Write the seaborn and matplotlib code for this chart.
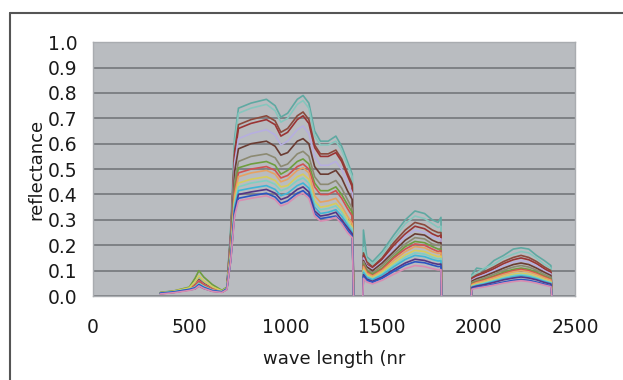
import matplotlib
matplotlib.use("Agg")
import matplotlib.pyplot as plt
from matplotlib.lines import Line2D
import numpy as np
import pandas as pd
import seaborn as sns

# wavelengths (nm) of the three measured bands, water bands left out
wl_band1 = [350, 420, 500, 530, 550, 575, 620, 670, 695, 715, 735, 755, 820, 900,
            945, 975, 1010, 1060, 1090, 1120, 1150, 1180, 1220, 1260, 1290, 1320, 1345, 1352]
wl_band2 = [1400, 1403, 1420, 1450, 1500, 1560, 1620, 1670, 1720, 1760, 1790, 1805, 1808]
wl_band3 = [1962, 1966, 1990, 2030, 2080, 2130, 2180, 2220, 2260, 2300, 2340, 2375, 2380]

# reflectance of each sample, band 1 / band 2 / band 3
s01 = ([.012, .018, .03, .052, .075, .056, .034, .02, .035, .27, .62, .74, .76, .775,
        .75, .705, .72, .775, .79, .76, .65, .61, .61, .63, .59, .53, .48, 0],
       [0, .26, .155, .135, .175, .24, .30, .335, .325, .30, .29, .31, 0],
       [0, .085, .11, .105, .14, .16, .185, .19, .185, .16, .14, .12, 0])
s02 = ([.01, .016, .028, .049, .07, .052, .032, .019, .033, .26, .60, .72, .74, .755,
        .73, .685, .70, .755, .77, .74, .63, .595, .595, .61, .575, .515, .47, 0],
       [0, .19, .145, .125, .165, .225, .285, .315, .305, .285, .27, .275, 0],
       [0, .08, .09, .11, .125, .15, .165, .175, .17, .15, .125, .11, 0])
s03 = ([.011, .017, .028, .045, .065, .049, .03, .018, .032, .25, .57, .675, .695, .71,
        .69, .645, .66, .71, .725, .695, .595, .56, .56, .575, .54, .485, .44, 0],
       [0, .17, .135, .115, .15, .21, .26, .29, .28, .26, .25, .25, 0],
       [0, .072, .083, .096, .115, .136, .152, .16, .152, .136, .115, .10, 0])
s04 = ([.013, .019, .03, .042, .06, .045, .028, .019, .033, .24, .555, .66, .68, .695,
        .675, .63, .645, .695, .71, .68, .585, .55, .55, .565, .53, .475, .43, 0],
       [0, .16, .125, .11, .145, .20, .245, .275, .265, .245, .235, .24, 0],
       [0, .068, .078, .09, .108, .128, .143, .15, .143, .128, .108, .093, 0])
s05 = ([.01, .016, .027, .042, .06, .045, .027, .017, .03, .23, .525, .62, .64, .655,
        .635, .595, .61, .655, .67, .64, .55, .515, .515, .53, .50, .445, .405, 0],
       [0, .15, .12, .105, .135, .185, .235, .26, .25, .235, .225, .225, 0],
       [0, .063, .073, .084, .10, .119, .133, .14, .133, .119, .10, .087, 0])
s06 = ([.012, .018, .028, .039, .055, .041, .025, .018, .03, .21, .49, .58, .60, .61,
        .59, .555, .565, .61, .62, .60, .51, .48, .48, .495, .465, .415, .38, 0],
       [0, .14, .115, .10, .13, .175, .22, .245, .24, .22, .21, .21, 0],
       [0, .059, .068, .078, .094, .11, .124, .13, .124, .11, .094, .081, 0])
s07 = ([.01, .016, .026, .035, .05, .038, .023, .016, .028, .20, .45, .53, .55, .56,
        .545, .51, .52, .56, .57, .55, .47, .44, .44, .455, .425, .38, .345, 0],
       [0, .135, .105, .09, .12, .165, .205, .23, .225, .205, .20, .20, 0],
       [0, .054, .062, .072, .086, .102, .114, .12, .114, .102, .086, .074, 0])
s08 = ([.014, .02, .035, .07, .10, .075, .045, .022, .035, .19, .425, .505, .52, .53,
        .515, .48, .495, .53, .54, .52, .445, .415, .415, .43, .40, .36, .33, 0],
       [0, .125, .10, .085, .11, .155, .195, .215, .21, .195, .185, .185, 0],
       [0, .05, .057, .066, .079, .094, .105, .11, .105, .094, .079, .068, 0])
s09 = ([.011, .017, .03, .042, .06, .045, .027, .018, .03, .18, .41, .485, .50, .51,
        .495, .465, .475, .51, .52, .50, .43, .40, .40, .415, .385, .345, .315, 0],
       [0, .12, .095, .08, .105, .15, .185, .205, .20, .185, .175, .18, 0],
       [0, .047, .055, .063, .076, .089, .10, .105, .10, .089, .076, .065, 0])
s10 = ([.01, .015, .027, .035, .05, .038, .023, .016, .028, .175, .395, .47, .485, .495,
        .48, .45, .46, .495, .505, .485, .395, .37, .375, .385, .355, .315, .285, 0],
       [0, .115, .09, .078, .10, .14, .175, .195, .19, .175, .168, .17, 0],
       [0, .045, .052, .06, .072, .085, .095, .10, .095, .085, .072, .062, 0])
s11 = ([.013, .019, .032, .056, .08, .06, .036, .02, .032, .165, .375, .445, .46, .47,
        .455, .43, .435, .47, .48, .46, .375, .35, .355, .365, .34, .30, .27, 0],
       [0, .105, .083, .072, .094, .13, .162, .18, .175, .162, .155, .157, 0],
       [0, .041, .047, .054, .065, .077, .086, .09, .086, .077, .065, .056, 0])
s12 = ([.01, .016, .027, .035, .05, .038, .023, .017, .03, .16, .365, .43, .445, .455,
        .44, .415, .425, .455, .465, .445, .365, .34, .345, .355, .33, .29, .265, 0],
       [0, .10, .078, .068, .088, .122, .153, .17, .165, .153, .146, .148, 0],
       [0, .038, .044, .051, .061, .072, .081, .085, .081, .072, .061, .053, 0])
s13 = ([.012, .017, .026, .032, .045, .034, .021, .016, .028, .15, .35, .415, .425, .435,
        .42, .395, .405, .435, .445, .425, .35, .325, .33, .34, .315, .28, .25, 0],
       [0, .093, .074, .064, .083, .115, .144, .16, .155, .144, .138, .139, 0],
       [0, .036, .042, .048, .058, .068, .076, .08, .076, .068, .058, .05, 0])
s14 = ([.009, .014, .024, .028, .04, .03, .019, .015, .026, .145, .335, .40, .41, .42,
        .405, .38, .39, .42, .43, .41, .335, .315, .32, .33, .30, .27, .245, 0],
       [0, .084, .067, .058, .075, .104, .13, .145, .14, .13, .125, .126, 0],
       [0, .034, .039, .045, .054, .064, .071, .075, .071, .064, .054, .047, 0])
s15 = ([.011, .016, .026, .032, .045, .034, .021, .017, .029, .14, .325, .385, .395, .405,
        .39, .365, .375, .405, .415, .395, .325, .305, .31, .315, .29, .26, .235, 0],
       [0, .078, .062, .054, .07, .097, .122, .135, .131, .122, .116, .117, 0],
       [0, .029, .034, .039, .047, .055, .062, .065, .062, .055, .047, .04, 0])
s16 = ([.008, .013, .022, .028, .04, .03, .018, .014, .025, .14, .315, .375, .385, .395,
        .38, .355, .365, .395, .405, .385, .315, .295, .30, .31, .285, .25, .23, 0],
       [0, .07, .055, .048, .062, .086, .108, .12, .116, .108, .103, .104, 0],
       [0, .027, .031, .036, .043, .051, .057, .06, .057, .051, .043, .037, 0])

samples = [s01, s02, s03, s04, s05, s06, s07, s08, s09, s10, s11, s12, s13, s14, s15, s16]
colors = ['#5fa9a2', '#86c6bd', '#8b4a3c', '#9a3434', '#b6aee0', '#6a3c32',
          '#8c8a72', '#6e9e3e', '#d05252', '#e6a262', '#d6cc5c', '#7fcfc2',
          '#3fb5d6', '#553585', '#2b55c2', '#d98cb2']

rows = []
for i, s in enumerate(samples):
    for b, (wl, vals) in enumerate(zip([wl_band1, wl_band2, wl_band3], s)):
        for w, v in zip(wl, vals):
            rows.append((f's{i + 1:02d}', b, w, v))
df = pd.DataFrame(rows, columns=['sample', 'band', 'wl', 'refl'])

sns.set_theme(style='white', rc={'axes.facecolor': '#b9bcc0'})
plt.rcParams['font.family'] = ['DejaVu Sans']

fig = plt.figure(figsize=(6.23, 3.8), dpi=100)
ax = fig.add_axes([0.149, 0.221, 0.774, 0.668])

ax.yaxis.grid(True, color='#7e8185', linewidth=1.4)
ax.set_axisbelow(True)
sns.lineplot(data=df, x='wl', y='refl', hue='sample', units='band', estimator=None,
             palette=colors, legend=False, linewidth=1.2, sort=False, ax=ax)

ax.set_xlim(0, 2500)
ax.set_ylim(0, 1.0)
ax.set_xticks(np.arange(0, 2501, 500))
ax.set_yticks(np.arange(0, 1.01, 0.1))
ax.set_yticklabels([f'{v:.1f}' for v in np.arange(0, 1.01, 0.1)])
ax.tick_params(axis='x', direction='in', length=4, color='#85888c', pad=16, labelsize=13.5,
               labelcolor='#1a1a1a')
ax.tick_params(axis='y', length=0, pad=11, labelsize=13.5, labelcolor='#1a1a1a')
ax.set_xlabel('wave length (nr', fontsize=13, color='#1a1a1a', labelpad=9)
ax.set_ylabel('reflectance', fontsize=13, color='#1a1a1a', labelpad=2)
for side, sp in ax.spines.items():
    sp.set_color('#a9acb0')
    sp.set_linewidth(1.0)

# outer frame (only top and left edges visible in the crop)
fig.add_artist(Line2D([0.016, 1.0], [0.966, 0.966], color='#555555', linewidth=1.5))
fig.add_artist(Line2D([0.016, 0.016], [0.0, 0.966], color='#555555', linewidth=1.5))

fig.savefig('out.png', dpi=100, facecolor='white')
